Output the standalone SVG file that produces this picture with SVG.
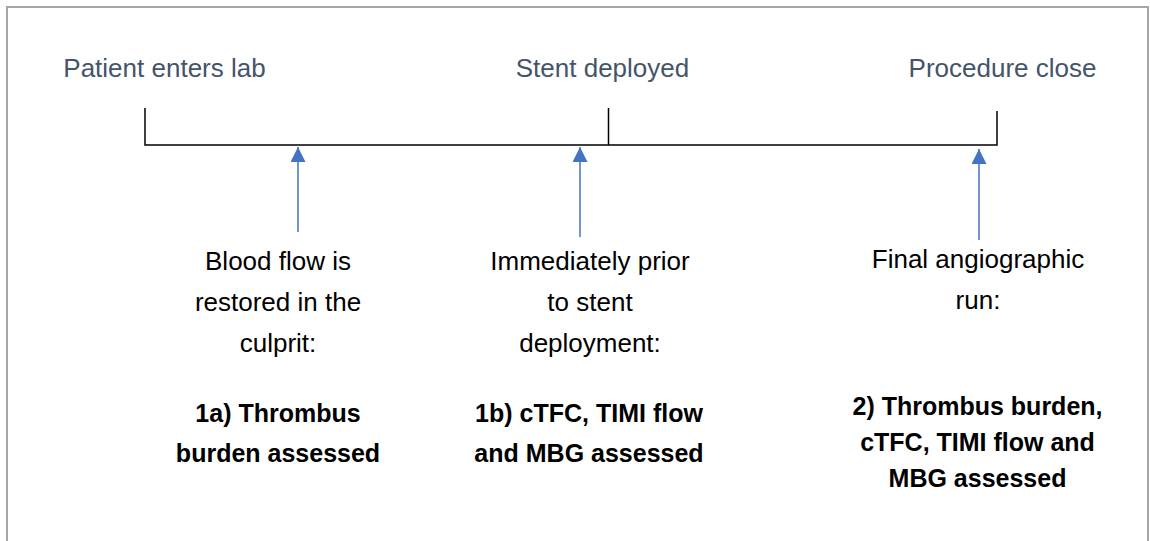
<svg xmlns="http://www.w3.org/2000/svg" width="1150" height="541" viewBox="0 0 1150 541">
  <style>
    .frame { fill: #ffffff; stroke: #A6A6A6; stroke-width: 2; }
    .tl { stroke: #000000; stroke-width: 1.5; fill: none; }
    .arrow { stroke: #4472C4; stroke-width: 1.5; fill: none; marker-end: url(#ah); }
    .head { font-family: "Liberation Sans", Arial, sans-serif; font-size: 26px; fill: #44546A; text-anchor: middle; }
    .desc { font-family: "Liberation Sans", Arial, sans-serif; font-size: 26px; fill: #000000; text-anchor: middle; }
    .bold { font-family: "Liberation Sans", Arial, sans-serif; font-size: 25px; font-weight: bold; fill: #000000; text-anchor: middle; }
  </style>
  <defs>
    <marker id="ah" markerUnits="userSpaceOnUse" markerWidth="15" markerHeight="15" viewBox="0 0 15 15" refX="15" refY="7.5" orient="auto">
      <path d="M0,0 L15,7.5 L0,15 z" fill="#4472C4"/>
    </marker>
  </defs>
  <rect class="frame" x="7" y="7" width="1141" height="600"/>

  <g id="timeline">
    <path class="tl" d="M145,108 V145 H997 V111"/>
    <line class="tl" x1="608.5" y1="108" x2="608.5" y2="145"/>
  </g>

  <g id="milestone-patient-enters">
    <text class="head" x="164.5" y="77">Patient enters lab</text>
  </g>
  <g id="milestone-stent-deployed">
    <text class="head" x="602.5" y="77">Stent deployed</text>
  </g>
  <g id="milestone-procedure-close">
    <text class="head" x="1002.5" y="77">Procedure close</text>
  </g>

  <g id="connectors">
    <line class="arrow" x1="298" y1="232" x2="298" y2="147"/>
    <line class="arrow" x1="580" y1="237" x2="580" y2="147"/>
    <line class="arrow" x1="979" y1="240" x2="979" y2="149"/>
  </g>

  <g id="step-1a">
    <text class="desc" x="278" y="270">Blood flow is</text>
    <text class="desc" x="278" y="311">restored in the</text>
    <text class="desc" x="278" y="352">culprit:</text>
    <text class="bold" x="278" y="422">1a) Thrombus</text>
    <text class="bold" x="278" y="462">burden assessed</text>
  </g>

  <g id="step-1b">
    <text class="desc" x="590" y="270">Immediately prior</text>
    <text class="desc" x="590" y="311">to stent</text>
    <text class="desc" x="590" y="352">deployment:</text>
    <text class="bold" x="589" y="422">1b) cTFC, TIMI flow</text>
    <text class="bold" x="589" y="462">and MBG assessed</text>
  </g>

  <g id="step-2">
    <text class="desc" x="978" y="268">Final angiographic</text>
    <text class="desc" x="978" y="309">run:</text>
    <text class="bold" x="977.5" y="415">2) Thrombus burden,</text>
    <text class="bold" x="977.5" y="451">cTFC, TIMI flow and</text>
    <text class="bold" x="977.5" y="487">MBG assessed</text>
  </g>
</svg>
